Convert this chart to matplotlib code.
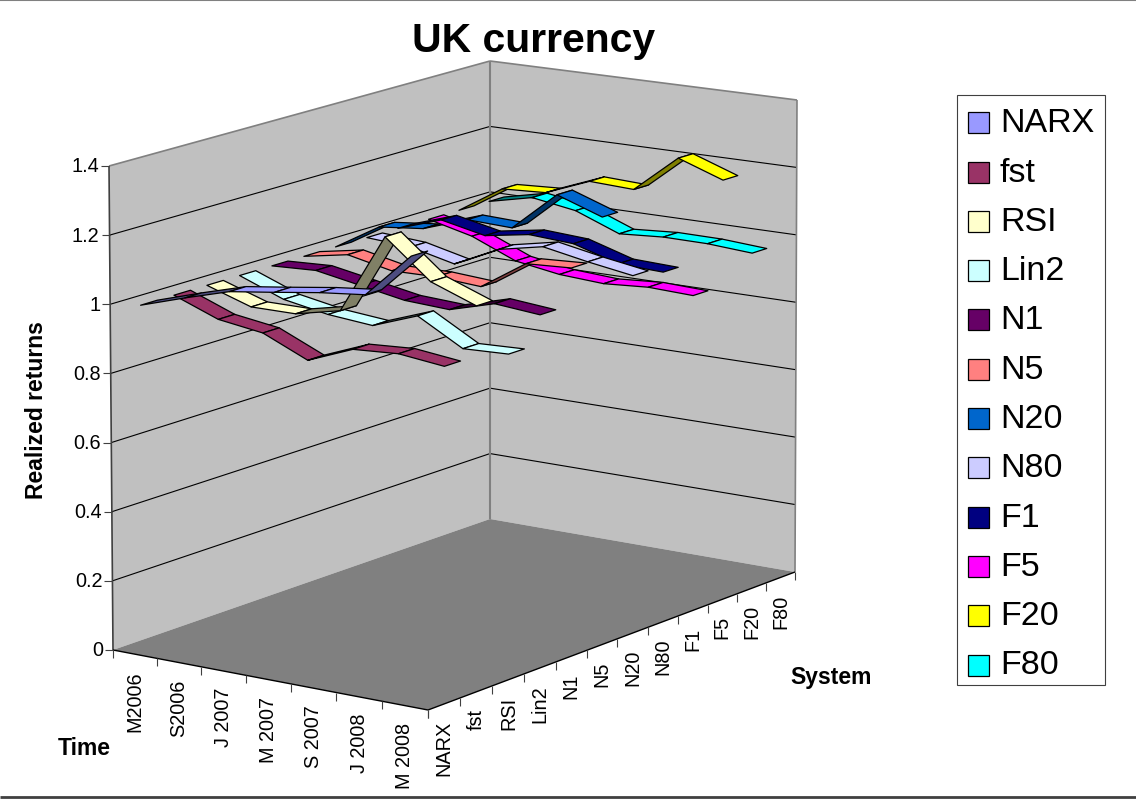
import matplotlib
matplotlib.use('Agg')
import matplotlib.pyplot as plt
from matplotlib.colors import to_rgb
from matplotlib.patches import Polygon, Rectangle
import numpy as np

plt.rcParams['font.family'] = ['Liberation Sans', 'DejaVu Sans']

# Realized returns per system, one list per system, one value per date
dates = ['M2006', 'S2006', 'J 2007', 'M 2007', 'S 2007', 'J 2008', 'M 2008']
systems = ['NARX', 'fst', 'RSI', 'Lin2', 'N1', 'N5', 'N20', 'N80', 'F1', 'F5', 'F20', 'F80']
NARX = [1.00, 1.041, 1.079, 1.097, 1.116, 1.130, 1.259]
fst = [1.00, 0.950, 0.931, 0.873, 0.925, 0.933, 0.918]
RSI = [1.00, 0.957, 0.957, 0.986, 1.218, 1.109, 1.060]
Lin2 = [1.00, 0.950, 0.926, 0.914, 0.962, 0.888, 0.893]
N1 = [1.00, 1.006, 0.982, 0.958, 0.951, 0.988, 0.976]
N5 = [1.00, 1.024, 0.996, 0.998, 0.989, 1.075, 1.082]
N20 = [1.00, 1.078, 1.092, 1.137, 1.132, 1.247, 1.201]
N80 = [1.00, 0.991, 0.960, 1.022, 1.049, 1.024, 1.003]
F1 = [1.00, 1.044, 1.016, 1.038, 1.030, 0.990, 0.985]
F5 = [1.00, 0.968, 0.913, 0.892, 0.884, 0.893, 0.888]
F20 = [1.00, 1.083, 1.090, 1.142, 1.136, 1.247, 1.200]
F80 = [1.00, 1.030, 1.009, 0.958, 0.967, 0.966, 0.957]
returns = [NARX, fst, RSI, Lin2, N1, N5, N20, N80, F1, F5, F20, F80]
colors = ['#9999FF', '#993366', '#FFFFCC', '#CCFFFF', '#660066', '#FF8080',
          '#0066CC', '#CCCCFF', '#000080', '#FF00FF', '#FFFF00', '#00FFFF']
z_ticks = [0, 0.2, 0.4, 0.6, 0.8, 1, 1.2, 1.4]
z_max = 1.4

# floor corners in pixels: time start, front corner, system end, back corner
x0, y0 = 113, 651
x1, y1 = 428, 711
x2, y2 = 795, 573
x3, y3 = 490, 520
sx = x0 - x1 + x2 - x3
sy = y0 - y1 + y2 - y3
den = (x1 - x2) * (y3 - y2) - (x3 - x2) * (y1 - y2)
g = (sx * (y3 - y2) - (x3 - x2) * sy) / den
h = ((x1 - x2) * sy - sx * (y1 - y2)) / den


# 3d to pixels, u along time and v along systems, both 0..1
def project(u, v, z=0.0):
    w = 1 + g * u + h * v
    x = (x0 + (x1 - x0 + g * x1) * u + (x3 - x0 + h * x3) * v) / w
    y = (y0 + (y1 - y0 + g * y1) * u + (y3 - y0 + h * y3) * v) / w
    height = 484 + 14 * u - 26 * v
    lean = -4 + 2 * u + 4 * v
    return x + lean * z / z_max, y - height * z / z_max


n_t = len(dates)
n_s = len(systems)

fig = plt.figure(figsize=(11.36, 8.03), dpi=100)
ax = fig.add_axes([0, 0, 1, 1])
ax.set_xlim(0, 1136)
ax.set_ylim(803, 0)
ax.axis('off')


def line(p, q, color='black', lw=0.8, zorder=2):
    ax.plot([p[0], q[0]], [p[1], q[1]], color=color, lw=lw, zorder=zorder,
            solid_capstyle='butt')


# walls and floor
left_wall = [project(0, 0), project(0, 1), project(0, 1, z_max), project(0, 0, z_max)]
right_wall = [project(0, 1), project(1, 1), project(1, 1, z_max), project(0, 1, z_max)]
floor = [project(0, 0), project(1, 0), project(1, 1), project(0, 1)]
ax.add_patch(Polygon(left_wall, fc='#C0C0C0', ec='none', zorder=1))
ax.add_patch(Polygon(right_wall, fc='#C0C0C0', ec='none', zorder=1))
ax.add_patch(Polygon(floor, fc='#808080', ec='none', zorder=1))

for z in z_ticks[1:-1]:
    line(project(0, 0, z), project(0, 1, z))
    line(project(0, 1, z), project(1, 1, z))
line(project(0, 0, z_max), project(0, 1, z_max), color='#808080', lw=1.2)
line(project(0, 1, z_max), project(1, 1, z_max), color='#808080', lw=1.2)
line(project(0, 1), project(0, 1, z_max), color='#808080', lw=1.5)
line(project(1, 1), project(1, 1, z_max), color='#808080', lw=1.2)

# axis lines, ticks and labels
line(project(0, 0), project(0, 0, z_max), color='#404040', lw=1.2)
line(project(0, 0), project(1, 0), lw=1.0)
line(project(1, 0), project(1, 1), lw=1.0)
for z in z_ticks:
    px, py = project(0, 0, z)
    line((px - 8, py), (px, py), color='#404040', lw=0.8)
    ax.text(px - 10, py, f'{z:g}', ha='right', va='center', fontsize=14.3)
for i in range(n_t + 1):
    px, py = project(i / n_t, 0)
    line((px, py), (px, py + 8), color='#404040', lw=0.8)
for i, label in enumerate(dates):
    px, py = project((i + 0.5) / n_t, 0)
    ax.text(px, py + 16, label, rotation=90, ha='center', va='top', fontsize=14.3)
for i in range(n_s + 1):
    px, py = project(1, i / n_s)
    line((px, py), (px, py + 8), color='#404040', lw=0.8)
for i, label in enumerate(systems):
    px, py = project(1, (i + 0.5) / n_s)
    ax.text(px, py + 16, label, rotation=90, ha='center', va='top', fontsize=14.3)

ax.text(534, 41, 'UK currency', ha='center', va='center', fontsize=29.4, fontweight='bold')
ax.text(37, 410, 'Realized returns', rotation=90, ha='center', va='center',
        fontsize=16.5, fontweight='bold')
ax.text(84, 749, 'Time', ha='center', va='center', fontsize=16.5, fontweight='bold')
ax.text(831, 678, 'System', ha='center', va='center', fontsize=16.5, fontweight='bold')

# ribbons, back to front; N20 is painted under F5 and F1
paint_order = [11, 10, 6, 9, 8, 7, 5, 4, 3, 2, 1, 0]
zo = 3.0
for s in paint_order:
    vals = returns[s]
    v_front = (s + 0.25) / n_s
    v_back = (s + 0.75) / n_s
    base = np.array(to_rgb(colors[s]))
    for i in range(n_t - 1):
        u_a = (i + 0.5) / n_t
        u_b = (i + 1.5) / n_t
        pts = [project(u_a, v_front, vals[i]), project(u_b, v_front, vals[i + 1]),
               project(u_b, v_back, vals[i + 1]), project(u_a, v_back, vals[i])]
        # rising stretches show their darker underside
        fc = base * 0.5 if vals[i + 1] - vals[i] > 0.0275 else base
        ax.add_patch(Polygon(pts, fc=fc, ec='black', lw=0.9, joinstyle='round', zorder=zo))
        zo += 0.01

# legend box
ax.add_patch(Rectangle((956.5, 95.5), 148, 590, fc='white', ec='#404040', lw=0.8, zorder=2))
for i, label in enumerate(systems):
    cy = 123.7 + 49.3 * i
    ax.add_patch(Rectangle((967.5, cy - 10.5), 21, 21, fc=colors[i], ec='black', lw=0.9, zorder=3))
    ax.text(1000, cy, label, ha='left', va='center', fontsize=24.5, zorder=3)

# thin rules at top and bottom of the frame
line((0, 0.5), (1136, 0.5), color='#808080', lw=1.5)
line((0, 798), (1136, 798), color='#404040', lw=2.0)

fig.savefig('out.png', dpi=100)
